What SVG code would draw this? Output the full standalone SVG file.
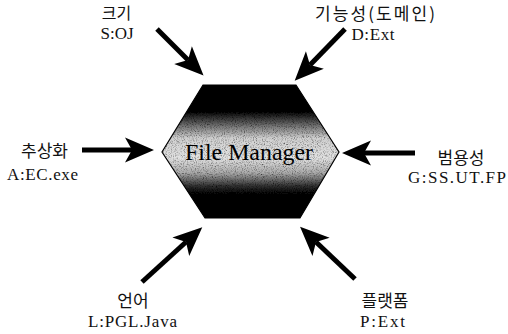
<svg xmlns="http://www.w3.org/2000/svg" width="508" height="334" viewBox="0 0 508 334">
  <style>
    .arrow { stroke: #000; stroke-width: 5; fill: none; marker-end: url(#head); }
    .ko { font-family: "Noto Sans CJK KR", sans-serif; font-size: 17px; fill: #111; text-anchor: middle; }
    .code { font-family: "Liberation Serif", "Times New Roman", serif; font-size: 17px; fill: #111; text-anchor: middle; }
    .title { font-family: "Liberation Serif", "Times New Roman", serif; font-size: 24px; fill: #000; text-anchor: middle; }
  </style>
  <defs>
    <!-- barbed arrowhead; the line stops at the notch -->
    <marker id="head" viewBox="0 0 30 26" markerWidth="30" markerHeight="26" refX="7" refY="13" orient="auto" markerUnits="userSpaceOnUse" overflow="visible">
      <path d="M0,0.5 L29,13 L0,25.5 L7,13 Z" fill="#000"/>
    </marker>
    <!-- dark top and bottom, light band through the middle -->
    <linearGradient id="hexFill" x1="0" y1="85" x2="0" y2="218" gradientUnits="userSpaceOnUse">
      <stop offset="0" stop-color="#000"/>
      <stop offset="0.2" stop-color="#050505"/>
      <stop offset="0.3" stop-color="#6a6a6a"/>
      <stop offset="0.4" stop-color="#d0d0d0"/>
      <stop offset="0.55" stop-color="#e2e2e2"/>
      <stop offset="0.66" stop-color="#ababab"/>
      <stop offset="0.76" stop-color="#303030"/>
      <stop offset="0.83" stop-color="#000"/>
      <stop offset="1" stop-color="#000"/>
    </linearGradient>
    <!-- speckled halftone texture on the hexagon -->
    <filter id="grain" x="0" y="0" width="1" height="1">
      <feTurbulence type="fractalNoise" baseFrequency="0.9" numOctaves="2" seed="4" result="noise"/>
      <feColorMatrix in="noise" type="matrix" values="0 0 0 0 0  0 0 0 0 0  0 0 0 0 0  2.0 0 0 0 -0.9" result="dots"/>
      <feComposite in="dots" in2="SourceAlpha" operator="in" result="speckle"/>
      <feMerge>
        <feMergeNode in="SourceGraphic"/>
        <feMergeNode in="speckle"/>
      </feMerge>
    </filter>
  </defs>

  <rect width="508" height="334" fill="#fff"/>

  <g id="file-manager">
    <polygon points="203,85 296,85 339,152 300,218 205,218 162,152" fill="url(#hexFill)" filter="url(#grain)"/>
    <polygon points="203,85 296,85 339,152 300,218 205,218 162,152" fill="none" stroke="#000" stroke-width="1.2"/>
    <text class="title" x="249" y="160" textLength="128" lengthAdjust="spacingAndGlyphs">File Manager</text>
  </g>

  <g id="connectors">
    <line class="arrow" x1="157" y1="29" x2="188" y2="60"/>
    <line class="arrow" x1="345" y1="29" x2="310" y2="65"/>
    <line class="arrow" x1="82" y1="150" x2="132" y2="150"/>
    <line class="arrow" x1="415" y1="153" x2="364" y2="153"/>
    <line class="arrow" x1="142" y1="282" x2="186" y2="242"/>
    <line class="arrow" x1="355" y1="279" x2="316" y2="242"/>
  </g>

  <g id="size">
    <text class="ko" x="116.5" y="19" style="font-size:16px">크기</text>
    <text class="code" x="117" y="39" textLength="33">S:OJ</text>
  </g>
  <g id="function">
    <text class="ko" x="375" y="20" textLength="120">기능성(도메인)</text>
    <text class="code" x="373" y="40" textLength="43">D:Ext</text>
  </g>
  <g id="abstraction">
    <text class="ko" x="44.5" y="157">추상화</text>
    <text class="code" x="42.5" y="180" textLength="71">A:EC.exe</text>
  </g>
  <g id="generality">
    <text class="ko" x="461" y="164">범용성</text>
    <text class="code" x="457" y="183" textLength="98">G:SS.UT.FP</text>
  </g>
  <g id="language">
    <text class="ko" x="133" y="307">언어</text>
    <text class="code" x="132.5" y="327" textLength="89">L:PGL.Java</text>
  </g>
  <g id="platform">
    <text class="ko" x="385" y="307">플랫폼</text>
    <text class="code" x="382.5" y="327" textLength="45">P:Ext</text>
  </g>
</svg>
